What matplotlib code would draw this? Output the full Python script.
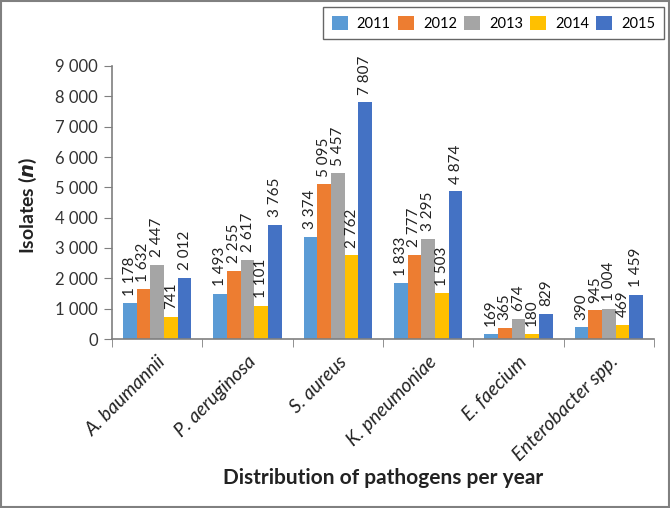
import numpy as np
import matplotlib
matplotlib.use('Agg')
import matplotlib.pyplot as plt
from matplotlib.patches import Rectangle

pathogens = ['A. baumannii', 'P. aeruginosa', 'S. aureus', 'K. pneumoniae',
             'E. faecium', 'Enterobacter spp.']
years = ['2011', '2012', '2013', '2014', '2015']
v2011 = [1178, 1493, 3374, 1833, 169, 390]
v2012 = [1632, 2255, 5095, 2777, 365, 945]
v2013 = [2447, 2617, 5457, 3295, 674, 1004]
v2014 = [741, 1101, 2762, 1503, 180, 469]
v2015 = [2012, 3765, 7807, 4874, 829, 1459]
series = [v2011, v2012, v2013, v2014, v2015]
colors = ['#5B9BD5', '#ED7D31', '#A5A5A5', '#FFC000', '#4472C4']

plt.rcParams.update({'font.family': ['Lato', 'DejaVu Sans']})
AX = '#7F7F7F'

fig = plt.figure(figsize=(6.7, 5.08), dpi=100)
fig.patches.append(Rectangle((0.002, 0.002), 0.996, 0.996, transform=fig.transFigure,
                             fill=False, edgecolor='#808080', lw=1.5))
ax = fig.add_axes([112 / 670, 1 - 339 / 508, 542 / 670, 273 / 508])

x = np.arange(len(pathogens))
w = 0.152
for i, (vals, c, yr) in enumerate(zip(series, colors, years)):
    pos = x + (i - 2) * w
    ax.bar(pos, vals, width=w, color=c, label=yr)
    for p, v in zip(pos, vals):
        ax.annotate(f'{v:,}'.replace(',', ' '), (p, v), xytext=(0, 5.5),
                    textcoords='offset points', rotation=90, ha='center',
                    va='bottom', fontsize=11, color='#222222')

ax.set_xlim(-0.5, 5.5)
ax.set_ylim(0, 9000)
ax.set_yticks(np.arange(0, 9001, 1000))
ax.set_yticklabels([f'{t:,}'.replace(',', ' ') for t in range(0, 9001, 1000)],
                   fontsize=12, color='#333333')
ax.set_xticks(x)
ax.set_xticklabels(pathogens, rotation=45, ha='right', rotation_mode='anchor',
                   fontsize=13.8, style='italic', color='#222222')
ax.set_xticks(np.arange(-0.5, 6, 1), minor=True)
ax.tick_params(axis='x', which='major', length=0, pad=10)
ax.tick_params(axis='x', which='minor', length=6, color=AX, direction='out')
ax.tick_params(axis='y', length=6, color=AX, direction='out', pad=4)
for s in ('top', 'right'):
    ax.spines[s].set_visible(False)
for s in ('left', 'bottom'):
    ax.spines[s].set_color(AX)
    ax.spines[s].set_linewidth(1.2)

fig.text(28 / 670, 1 - 205 / 508, 'Isolates ($\\mathbfit{n}$)', rotation=90,
         ha='center', va='center', fontsize=14, fontweight='bold', color='#222222')
fig.text(383 / 670, 1 - 478 / 508, 'Distribution of pathogens per year',
         ha='center', va='center', fontsize=15, fontweight='bold', color='#222222')

leg = fig.legend(loc='upper right', bbox_to_anchor=(664 / 670, 1 - 7 / 508),
                 ncol=5, fontsize=10.5, frameon=True, fancybox=False,
                 handlelength=1.1, handleheight=1.1, handletextpad=0.6,
                 columnspacing=0.5, borderpad=0.6, borderaxespad=0)
leg.get_frame().set_edgecolor('#404040')
leg.get_frame().set_linewidth(1.0)

plt.savefig('out.png', dpi=100)
